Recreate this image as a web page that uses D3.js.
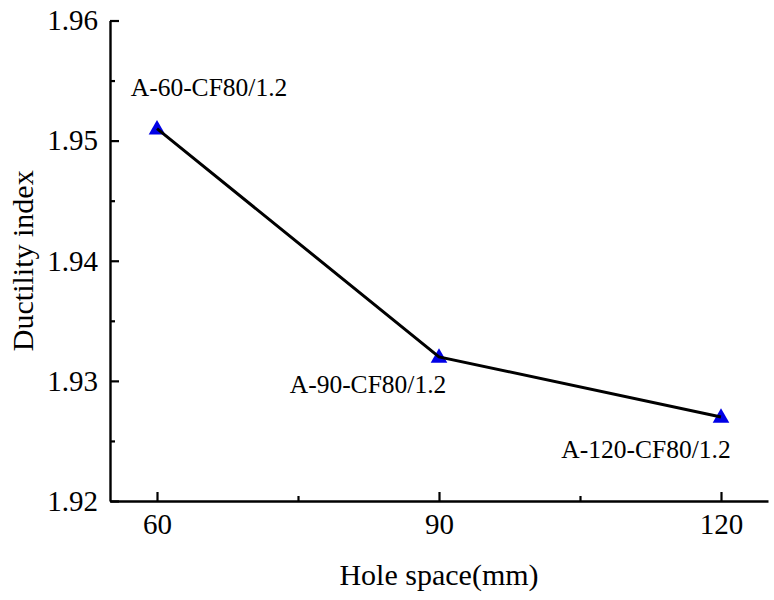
<!DOCTYPE html>
<html>
<head>
<meta charset="utf-8">
<script src="https://cdn.jsdelivr.net/npm/d3@7"></script>
<style>
  body { margin: 0; background: #fff; }
  svg { display: block; }
</style>
</head>
<body>
<div id="chart"></div>
<script>
// Data
const holeSpace = [60, 90, 120];
const ductility = [1.951, 1.932, 1.927];
const pointLabels = ["A-60-CF80/1.2", "A-90-CF80/1.2", "A-120-CF80/1.2"];
const xTicks = [60, 90, 120];
const xMinor = [75, 105];
const yTicks = [1.92, 1.93, 1.94, 1.95, 1.96];
const yMinor = [1.925, 1.935, 1.945, 1.955];

const width = 774;
const height = 600;
const margin = { top: 20.5, right: 6, bottom: 99, left: 110 };
const font = "'Liberation Serif', 'Times New Roman', serif";

const data = holeSpace.map((x, i) => ({ x, y: ductility[i], label: pointLabels[i] }));

const svg = d3
  .select("#chart")
  .append("svg")
  .attr("width", width)
  .attr("height", height);

const x = d3
  .scaleLinear()
  .domain([55, 125])
  .range([margin.left, width - margin.right]);

const y = d3
  .scaleLinear()
  .domain([1.92, 1.96])
  .range([height - margin.bottom, margin.top]);

// Minor ticks (inward)
svg
  .append("g")
  .attr("transform", `translate(${margin.left},0)`)
  .call(d3.axisLeft(y).tickValues(yMinor).tickSize(-5).tickFormat(""))
  .call((g) => g.select(".domain").remove())
  .selectAll("line")
  .attr("stroke-width", 2.2);

svg
  .append("g")
  .attr("transform", `translate(0,${height - margin.bottom})`)
  .call(d3.axisBottom(x).tickValues(xMinor).tickSize(-5).tickFormat(""))
  .call((g) => g.select(".domain").remove())
  .selectAll("line")
  .attr("stroke-width", 2.2);

// Y axis
const yAxis = svg
  .append("g")
  .attr("transform", `translate(${margin.left},0)`)
  .call(
    d3
      .axisLeft(y)
      .tickValues(yTicks)
      .tickSize(-9)
      .tickSizeOuter(0)
      .tickPadding(12)
      .tickFormat(d3.format(".2f"))
  );
yAxis.select(".domain").attr("stroke-width", 2.4);
yAxis.selectAll("line").attr("stroke-width", 2.2);
yAxis
  .selectAll("text")
  .attr("font-family", font)
  .attr("font-size", "29px")
  .attr("fill", "#000");

// X axis
const xAxis = svg
  .append("g")
  .attr("transform", `translate(0,${height - margin.bottom})`)
  .call(
    d3
      .axisBottom(x)
      .tickValues(xTicks)
      .tickSize(-9)
      .tickSizeOuter(0)
      .tickPadding(12)
  );
xAxis.select(".domain").attr("stroke-width", 2.4);
xAxis.selectAll("line").attr("stroke-width", 2.2);
xAxis
  .selectAll("text")
  .attr("font-family", font)
  .attr("font-size", "29px")
  .attr("fill", "#000");

// Markers
svg
  .selectAll(".marker")
  .data(data)
  .enter()
  .append("path")
  .attr("class", "marker")
  .attr("d", d3.symbol().type(d3.symbolTriangle).size(120))
  .attr("transform", (d) => `translate(${x(d.x)},${y(d.y) + 1})`)
  .attr("fill", "#0000e6");

// Line
const line = d3
  .line()
  .x((d) => x(d.x))
  .y((d) => y(d.y));

svg
  .append("path")
  .datum(data)
  .attr("d", line)
  .attr("fill", "none")
  .attr("stroke", "#000")
  .attr("stroke-width", 3);

// Point labels
const labelOffsets = [
  [52, -33],
  [-71, 36],
  [-75, 41],
];
svg
  .selectAll(".plabel")
  .data(data)
  .enter()
  .append("text")
  .attr("class", "plabel")
  .attr("x", (d, i) => x(d.x) + labelOffsets[i][0])
  .attr("y", (d, i) => y(d.y) + labelOffsets[i][1])
  .attr("text-anchor", "middle")
  .attr("font-family", font)
  .attr("font-size", "25.5px")
  .text((d) => d.label);

// Axis titles
svg
  .append("text")
  .attr("x", (margin.left + width - margin.right) / 2)
  .attr("y", 585)
  .attr("text-anchor", "middle")
  .attr("font-family", font)
  .attr("font-size", "30px")
  .text("Hole space(mm)");

svg
  .append("text")
  .attr("transform", `translate(33,${(height - margin.bottom + margin.top) / 2}) rotate(-90)`)
  .attr("text-anchor", "middle")
  .attr("font-family", font)
  .attr("font-size", "30px")
  .text("Ductility index");
</script>
</body>
</html>
